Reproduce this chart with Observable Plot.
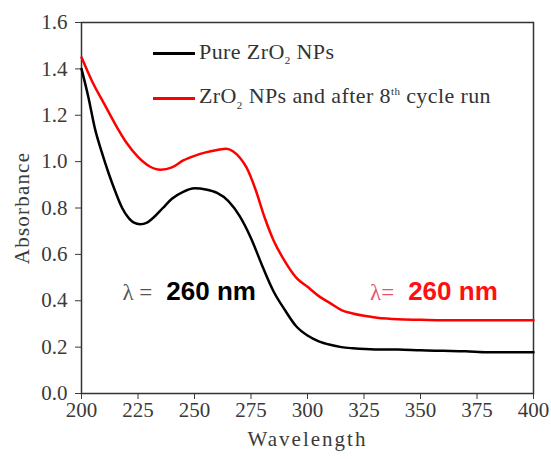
<!DOCTYPE html>
<html>
<head>
<meta charset="utf-8">
<script src="https://cdn.jsdelivr.net/npm/d3@7"></script>
<script src="https://cdn.jsdelivr.net/npm/@observablehq/plot@0.6"></script>
<style>
  html, body { margin: 0; padding: 0; background: #fff; }
  #wrap { position: relative; width: 551px; height: 459px; }
  .leg { position: absolute; font-family: "Liberation Serif", serif; font-size: 22px; letter-spacing: 0.4px; color: #333; white-space: nowrap; line-height: 22px; }
  .leg .sw { display: inline-block; width: 42px; height: 3px; vertical-align: middle; margin-right: 4px; }
  .leg sub { font-size: 11px; }
  .leg sup { font-size: 11px; }
  g[aria-label="x-axis label"] text { letter-spacing: 2px; }
  g[aria-label="y-axis label"] text { letter-spacing: 1.2px; }
</style>
</head>
<body>
<div id="wrap"></div>
<script>
// Wavelength (nm) and absorbance values
const wlBlack = [200,203,206,209,212,215,218,221,223,226,229,232,236,240,245,250,255,260,265,270,275,280,285,290,295,300,305,310,315,320,330,340,350,360,370,380,390,400];
const absBlack = [1.40,1.28,1.14,1.04,0.95,0.87,0.80,0.755,0.738,0.73,0.737,0.76,0.80,0.84,0.87,0.885,0.88,0.865,0.83,0.765,0.67,0.55,0.44,0.36,0.29,0.25,0.225,0.21,0.20,0.195,0.19,0.19,0.186,0.184,0.182,0.178,0.178,0.178];

const wlRed = [200,205,210,215,220,225,230,235,240,245,250,255,260,264,267,270,273,277,281,285,290,295,300,305,310,315,320,325,330,335,340,350,360,370,380,390,400];
const absRed = [1.45,1.34,1.25,1.16,1.08,1.02,0.98,0.965,0.975,1.005,1.025,1.04,1.05,1.056,1.045,1.018,0.975,0.88,0.76,0.66,0.57,0.50,0.46,0.42,0.39,0.36,0.345,0.335,0.328,0.323,0.32,0.318,0.316,0.316,0.316,0.316,0.316];

const xTicks = [200,225,250,275,300,325,350,375,400];
const yTicks = [0,0.2,0.4,0.6,0.8,1.0,1.2,1.4,1.6];

const seriesColors = ["#000000", "#ff0000"];

// annotations: "λ = 260 nm" labels
const annWl = [234, 341];
const annAbs = [0.437, 0.437];
const annLambdaColor = ["#555555", "#e8506a"];
const annTextColor = ["#000000", "#ff1010"];
const annLambda = ["λ =", "λ="];
const annText = ["260 nm", "260 nm"];

const blackData = wlBlack.map((w, i) => ({w, a: absBlack[i]}));
const redData = wlRed.map((w, i) => ({w, a: absRed[i]}));
const ann = annWl.map((w, i) => ({w, a: annAbs[i], lc: annLambdaColor[i], tc: annTextColor[i], l: annLambda[i], t: annText[i]}));

const chart = Plot.plot({
  width: 551,
  height: 459,
  marginLeft: 81,
  marginRight: 18,
  marginTop: 22,
  marginBottom: 66,
  style: { fontFamily: "'Liberation Serif', serif", fontSize: "21px", color: "#3a3a3a", background: "#fff" },
  x: { domain: [200, 400] },
  y: { domain: [0, 1.6] },
  marks: [
    Plot.axisX({ ticks: xTicks, tickSize: 6, tickPadding: 3, tickFormat: d3.format("d"), label: "Wavelength", labelAnchor: "center", labelArrow: "none", labelOffset: 52, fontSize: 21 }),
    Plot.axisY({ ticks: yTicks, tickSize: 6, tickPadding: 8, tickFormat: d3.format(".1f"), label: "Absorbance", labelAnchor: "center", labelArrow: "none", labelOffset: 67, fontSize: 21 }),
    Plot.frame({ stroke: "#333", strokeWidth: 1.5 }),
    Plot.line(redData, { x: "w", y: "a", stroke: seriesColors[1], strokeWidth: 2.5, curve: "monotone-x" }),
    Plot.line(blackData, { x: "w", y: "a", stroke: seriesColors[0], strokeWidth: 2.5, curve: "monotone-x" }),
    Plot.text(ann, { x: "w", y: "a", text: "l", fill: "lc", textAnchor: "end", dx: -6, fontSize: 23, fontFamily: "'Liberation Serif', serif" }),
    Plot.text(ann, { x: "w", y: "a", text: "t", fill: "tc", textAnchor: "start", dx: 8, fontSize: 26, fontWeight: "bold", fontFamily: "'Liberation Sans', Arial, sans-serif" })
  ]
});

const wrap = document.getElementById("wrap");
wrap.appendChild(chart);

function legendItem(top, color, html) {
  const d = document.createElement("div");
  d.className = "leg";
  d.style.left = "153px";
  d.style.top = (top - 11) + "px";
  d.innerHTML = `<span class="sw" style="background:${color}"></span>${html}`;
  wrap.appendChild(d);
}
legendItem(52, seriesColors[0], "Pure ZrO<sub>2</sub> NPs");
legendItem(91, seriesColors[1], "ZrO<sub>2</sub> NPs and after 8<sup>th</sup> cycle run");
</script>
</body>
</html>
